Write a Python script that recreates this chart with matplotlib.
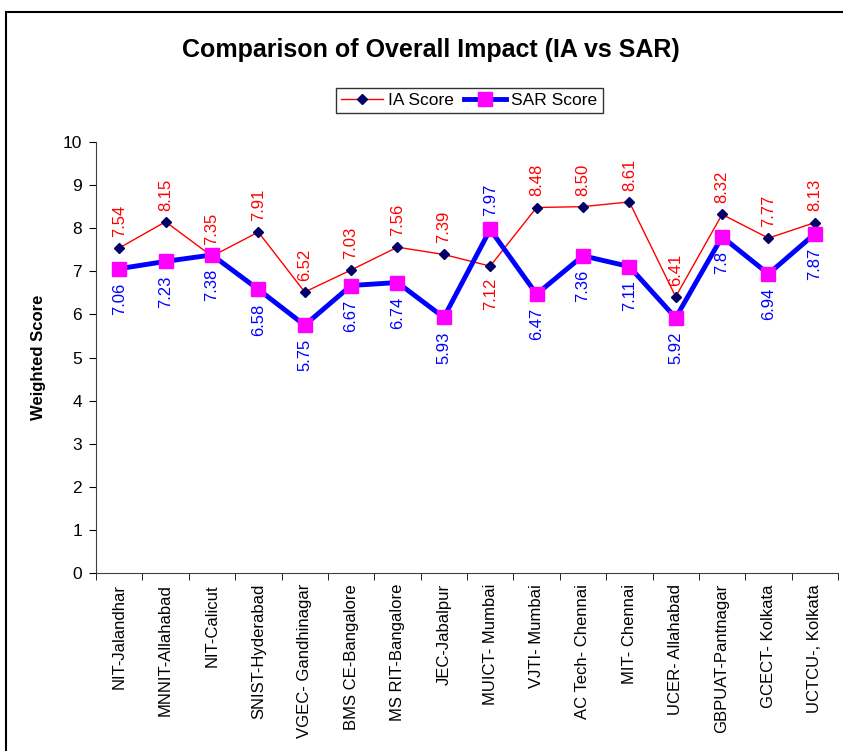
import matplotlib.pyplot as plt
from matplotlib.patches import Rectangle
from matplotlib.ticker import FixedLocator

plt.rcParams['font.family'] = ['Liberation Sans', 'DejaVu Sans']

institutes = ['NIT-Jalandhar', 'MNNIT-Allahabad', 'NIT-Calicut', 'SNIST-Hyderabad',
              'VGEC- Gandhinagar', 'BMS CE-Bangalore', 'MS RIT-Bangalore', 'JEC-Jabalpur',
              'MUICT- Mumbai', 'VJTI- Mumbai', 'AC Tech- Chennai', 'MIT- Chennai',
              'UCER- Allahabad', 'GBPUAT-Pantnagar', 'GCECT- Kolkata', 'UCTCU-, Kolkata']
ia_score = [7.54, 8.15, 7.35, 7.91, 6.52, 7.03, 7.56, 7.39,
            7.12, 8.48, 8.50, 8.61, 6.41, 8.32, 7.77, 8.13]
sar_score = [7.06, 7.23, 7.38, 6.58, 5.75, 6.67, 6.74, 5.93,
             7.97, 6.47, 7.36, 7.11, 5.92, 7.8, 6.94, 7.87]
ia_text = ['7.54', '8.15', '7.35', '7.91', '6.52', '7.03', '7.56', '7.39',
           '7.12', '8.48', '8.50', '8.61', '6.41', '8.32', '7.77', '8.13']
sar_text = ['7.06', '7.23', '7.38', '6.58', '5.75', '6.67', '6.74', '5.93',
            '7.97', '6.47', '7.36', '7.11', '5.92', '7.8', '6.94', '7.87']

fig = plt.figure(figsize=(8.43, 7.51), dpi=100)
ax = fig.add_axes([96 / 843, 1 - 573 / 751, 742 / 843, 431 / 751])

# outer chart border
fig.patches.append(Rectangle((6 / 843, -0.05), 1.2, 1 - 12 / 751 + 0.05,
                             transform=fig.transFigure, fill=False,
                             edgecolor='black', linewidth=1.5))

x = list(range(len(institutes)))
ax.plot(x, ia_score, color='red', linewidth=1, marker='D', markersize=5,
        markerfacecolor='#000066', markeredgecolor='#000066', label='IA Score', zorder=3)
ax.plot(x, sar_score, color='#0000FF', linewidth=3.5, marker='s', markersize=10,
        markerfacecolor='#FF00FF', markeredgecolor='#FF00FF', label='SAR Score', zorder=4)

# data labels (MUICT swaps sides)
for i in x:
    ia_up = i != 8
    ax.annotate(ia_text[i], (i, ia_score[i]), xytext=(0, 8 if ia_up else -8),
                textcoords='offset points', rotation=90, color='red', fontsize=12,
                ha='center', va='bottom' if ia_up else 'top', zorder=5)
    sar_up = i == 8
    ax.annotate(sar_text[i], (i, sar_score[i]), xytext=(0, 10 if sar_up else -10),
                textcoords='offset points', rotation=90, color='#0000FF', fontsize=12,
                ha='center', va='bottom' if sar_up else 'top', zorder=5)

ax.set_xlim(-0.5, len(institutes) - 0.5)
ax.set_ylim(0, 10)
ax.set_yticks(range(0, 11))
ax.set_xticks(x)
ax.set_xticklabels(institutes, rotation=90, fontsize=12)
ax.xaxis.set_minor_locator(FixedLocator([i - 0.5 for i in range(len(institutes) + 1)]))
ax.tick_params(axis='x', which='major', length=0, pad=8)
ax.tick_params(axis='x', which='minor', length=5, direction='out', color='black')
ax.tick_params(axis='y', labelsize=12.5, length=5, direction='out', pad=5)
for s in ['top', 'right']:
    ax.spines[s].set_visible(False)
ax.spines['left'].set_color('#404040')
ax.spines['bottom'].set_color('#404040')

ax.set_ylabel('Weighted Score', fontsize=12, fontweight='bold', labelpad=12)
fig.text(431 / 843, 1 - 50 / 751, 'Comparison of Overall Impact (IA vs SAR)',
         ha='center', va='center', fontsize=18, fontweight='bold')

leg = ax.legend(loc='center', bbox_to_anchor=(0.503, 1.096), ncol=2, fontsize=12.5,
                frameon=True, fancybox=False, edgecolor='black', handlelength=2.4,
                columnspacing=0.6, handletextpad=0.3, borderpad=0.3)
leg.get_frame().set_linewidth(1)

fig.savefig('out.png', dpi=100)
